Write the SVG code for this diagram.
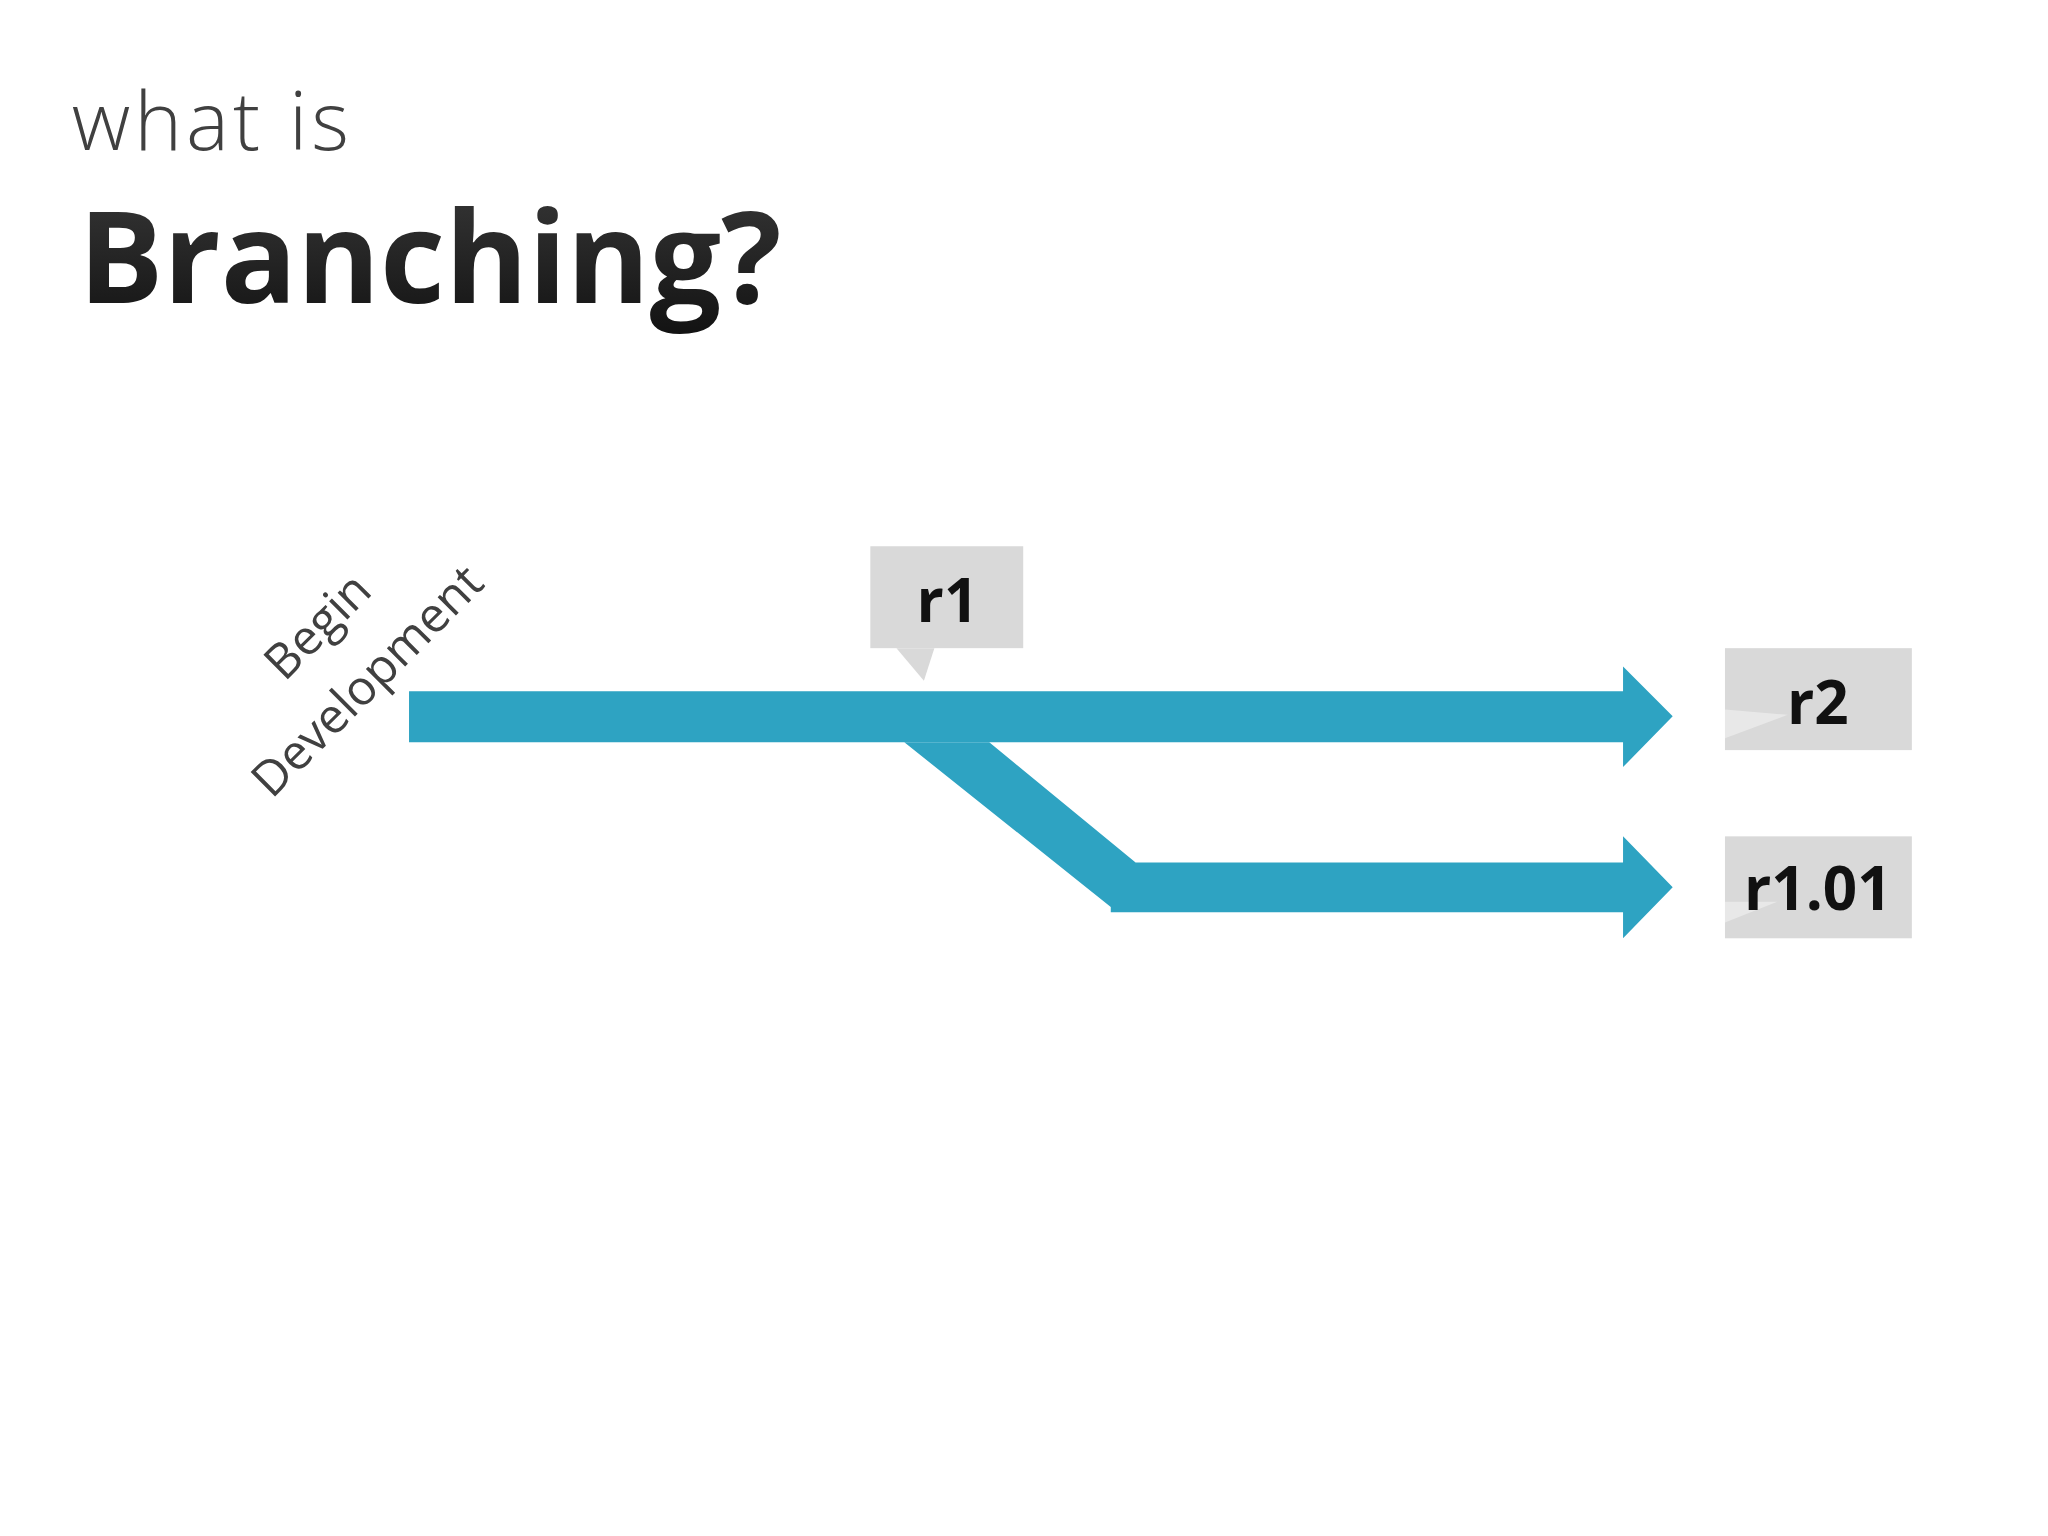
<svg xmlns="http://www.w3.org/2000/svg" width="2048" height="1536" viewBox="0 0 2048 1536">
<defs>
<linearGradient id="tg" x1="0" y1="0" x2="0" y2="1"><stop offset="0" stop-color="#3a3a3a"/><stop offset="1" stop-color="#111"/></linearGradient>
<style>
.lbl{fill:#d9d9d9}
.lt{font-family:"Open Sans","Liberation Sans",sans-serif;font-weight:bold;font-size:46px;fill:#111;text-anchor:middle}
.rot{font-family:"Open Sans","Liberation Sans",sans-serif;font-weight:400;font-size:37px;fill:#404040;text-anchor:middle}
.flow{fill:#2ea3c2}
</style>
</defs>
<rect width="2048" height="1536" fill="#fff"/>
<g transform="scale(1.3068)">
<text x="55" y="115" font-family="Open Sans, Liberation Sans, sans-serif" font-weight="300" font-size="62" fill="#404040" textLength="212">what is</text>
<text x="60" y="232" font-family="Open Sans, Liberation Sans, sans-serif" font-weight="bold" font-size="98" fill="url(#tg)" textLength="538" lengthAdjust="spacingAndGlyphs">Branching?</text>
<g id="connectors">
<polygon class="flow" points="313,529 1242,529 1242,510 1280,548 1242,587 1242,568 313,568"/>
<polygon class="flow" points="692,568 757,568 869,660 1242,660 1242,640 1280,679 1242,718 1242,698 850,698 850,694"/>
</g>
<g id="begin"><text class="rot" transform="translate(252,488) rotate(-45)">Begin</text><text class="rot" transform="translate(290,530) rotate(-45)">Development</text></g>
<g id="r1"><rect class="lbl" x="666" y="418" width="117" height="78"/><polygon class="lbl" points="686,496 707,521 715,496"/><text class="lt" x="725" y="476">r1</text></g>
<g id="r2"><rect class="lbl" x="1320" y="496" width="143" height="78"/><polygon fill="#e8e8e8" points="1320,543 1368,547 1320,565"/><text class="lt" x="1391" y="554">r2</text></g>
<g id="r101"><rect class="lbl" x="1320" y="640" width="143" height="78"/><polygon fill="#e8e8e8" points="1320,706 1360,690 1320,690"/><text class="lt" x="1391" y="696" font-size="42">r1.01</text></g>
</g>
</svg>
